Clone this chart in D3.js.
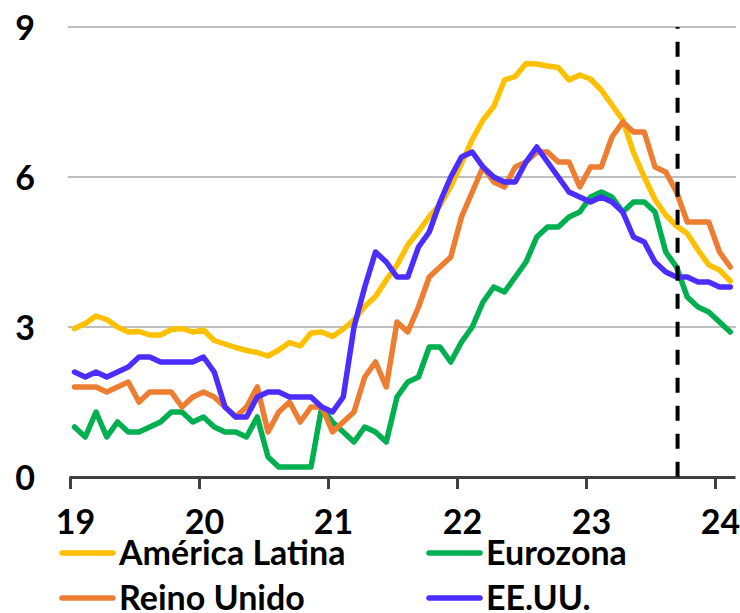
<!DOCTYPE html>
<html><head><meta charset="utf-8">
<script src="https://cdn.jsdelivr.net/npm/d3@7/dist/d3.min.js"></script>
<style>
body{margin:0;background:#fff}
svg{display:block}
text{font-family:Lato,"Noto Sans",sans-serif;font-weight:700;fill:#000}
</style>
</head><body>
<svg id="chart" width="740" height="613"></svg>
<script>
// Monthly data, Feb 2019 ... Mar 2024 (62 months), annual % change
const firstMonth = "2019-02";
const yearLabels = ["19","20","21","22","23","24"];
const yearTickMonth = [-0.42, 11.58, 23.58, 35.58, 47.58, 59.58];
const yTicks = [0, 3, 6, 9];
const cutoffMonth = 56.1;
const seriesNames = ["América Latina","Eurozona","Reino Unido","EE.UU."];
const seriesColors = ["#FFC000","#00B050","#ED7D31","#4B2DFF"];

const latam = [2.97,3.07,3.22,3.15,3.0,2.9,2.91,2.84,2.84,2.95,2.97,2.9,
  2.94,2.73,2.66,2.59,2.53,2.49,2.42,2.54,2.69,2.62,2.88,2.9,
  2.81,2.96,3.14,3.41,3.61,3.94,4.24,4.64,4.91,5.21,5.44,5.81,
  6.27,6.75,7.14,7.41,7.94,8.01,8.27,8.26,8.22,8.19,7.94,8.04,
  7.96,7.74,7.44,7.14,6.49,6.0,5.55,5.24,5.02,4.87,4.54,4.24,
  4.14,3.92];
const eurozona = [1.0,0.8,1.3,0.8,1.1,0.9,0.9,1.0,1.1,1.3,1.3,
  1.1,1.2,1.0,0.9,0.9,0.8,1.2,0.4,0.2,0.2,0.2,0.2,
  1.4,1.1,0.9,0.7,1.0,0.9,0.7,1.6,1.9,2.0,2.6,2.6,
  2.3,2.7,3.0,3.5,3.8,3.7,4.0,4.3,4.8,5.0,5.0,5.2,
  5.3,5.6,5.7,5.6,5.3,5.5,5.5,5.3,4.5,4.2,3.6,3.4,
  3.3,3.1,2.9];
const reinoUnido = [1.8,1.8,1.8,1.7,1.8,1.9,1.5,1.7,1.7,1.7,1.4,
  1.6,1.7,1.6,1.4,1.2,1.4,1.8,0.9,1.3,1.5,1.1,1.4,
  1.4,0.9,1.1,1.3,2.0,2.3,1.8,3.1,2.9,3.4,4.0,4.2,
  4.4,5.2,5.7,6.2,5.9,5.8,6.2,6.3,6.5,6.5,6.3,6.3,
  5.8,6.2,6.2,6.8,7.1,6.9,6.9,6.2,6.1,5.7,5.1,5.1,
  5.1,4.5,4.2];
const eeuu = [2.1,2.0,2.1,2.0,2.1,2.2,2.4,2.4,2.3,2.3,2.3,
  2.3,2.4,2.1,1.4,1.2,1.2,1.6,1.7,1.7,1.6,1.6,1.6,
  1.4,1.3,1.6,3.0,3.8,4.5,4.3,4.0,4.0,4.6,4.9,5.5,
  6.0,6.4,6.5,6.2,6.0,5.9,5.9,6.3,6.6,6.3,6.0,5.7,
  5.6,5.5,5.6,5.5,5.3,4.8,4.7,4.3,4.1,4.0,4.0,3.9,
  3.9,3.8,3.8];

const seriesValues = [latam, eurozona, reinoUnido, eeuu];

const svg = d3.select("#chart");
const FONT = 34;

const x = d3.scaleLinear().domain([0, 61]).range([74.5, 730.25]);
const y = d3.scaleLinear().domain([0, 9]).range([477, 27]);
const axisLeftX = 69, axisRightX = 735;
const xAxisScale = x.copy().domain([x.invert(axisLeftX), x.invert(axisRightX)]).range([axisLeftX, axisRightX]);

// gridlines
svg.append("g").selectAll("line").data(yTicks.filter(d => d > 0)).join("line")
  .attr("x1", axisLeftX - 1).attr("x2", axisRightX + 1)
  .attr("y1", d => y(d)).attr("y2", d => y(d))
  .attr("stroke", "#BFBFBF").attr("stroke-width", 2);

// y labels
const yAxis = d3.axisLeft(y).tickValues(yTicks).tickSize(0).tickPadding(0).tickFormat(d3.format("d"));
const gy = svg.append("g").attr("transform", "translate(35,0)").call(yAxis);
gy.select(".domain").remove();
gy.selectAll("text").attr("font-size", FONT).attr("font-family", null).attr("dy", "0.36em");

// x axis
const xAxis = d3.axisBottom(xAxisScale).tickValues(yearTickMonth)
  .tickFormat((d, i) => yearLabels[i]).tickSize(12).tickSizeOuter(0).tickPadding(0);
const gx = svg.append("g").attr("transform", `translate(0,${y(0)})`).call(xAxis);
gx.select(".domain").attr("stroke", "#404040").attr("stroke-width", 3);
gx.selectAll(".tick line").attr("stroke", "#404040").attr("stroke-width", 3);
gx.selectAll("text").attr("font-size", FONT).attr("font-family", null)
  .attr("y", 57).attr("dy", 0).attr("x", 5);

// lines
const line = d3.line().x((d, i) => x(i)).y(d => y(d));
svg.append("g").selectAll("path").data(seriesValues).join("path")
  .attr("d", d => line(d))
  .attr("fill", "none")
  .attr("stroke", (d, i) => seriesColors[i])
  .attr("stroke-width", 5.5)
  .attr("stroke-linejoin", "round")
  .attr("stroke-linecap", "round");

// cutoff dashed line
svg.append("line")
  .attr("x1", x(cutoffMonth)).attr("x2", x(cutoffMonth))
  .attr("y1", y(9)).attr("y2", y(0))
  .attr("stroke", "#000").attr("stroke-width", 4)
  .attr("stroke-dasharray", "15 13").attr("stroke-dashoffset", 13.3);

// legend
const legendPos = [[60, 553], [427, 553], [60, 598], [427, 598]];
const lg = svg.append("g").selectAll("g").data(seriesNames).join("g")
  .attr("transform", (d, i) => `translate(${legendPos[i][0]},${legendPos[i][1]})`);
lg.append("line").attr("x1", 2).attr("x2", 53).attr("y1", 0).attr("y2", 0)
  .attr("stroke", (d, i) => seriesColors[i]).attr("stroke-width", 5.5).attr("stroke-linecap", "round");
lg.append("text").attr("x", 59).attr("y", 12).attr("font-size", FONT).text(d => d);
</script>
</body></html>
